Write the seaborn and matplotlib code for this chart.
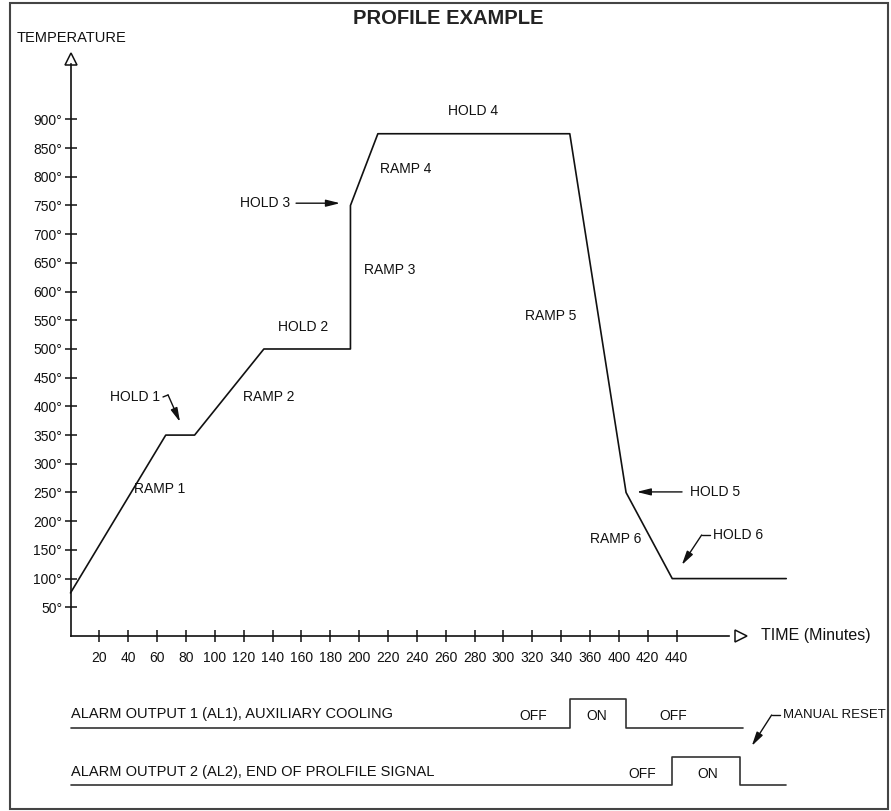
import numpy as np
import matplotlib
matplotlib.use("Agg")
import matplotlib.pyplot as plt
from matplotlib.patches import Rectangle
import seaborn as sns

sns.set_style('white')
plt.rcParams['font.family'] = ['Liberation Sans', 'DejaVu Sans']

# temperature profile (x in drawn minutes, y in degrees)
profile_t = [0, 66, 86, 134, 194, 194, 213, 346, 385, 417, 496]
profile_temp = [75, 350, 350, 500, 500, 750, 875, 875, 250, 100, 100]

# axis ticks
y_ticks = list(range(50, 901, 50))
y_labels = [f"{v}°" for v in y_ticks]
x_ticks = [20 * k for k in range(1, 22)]
x_labels = ["20", "40", "60", "80", "100", "120", "140", "160", "180", "200",
            "220", "240", "260", "280", "300", "320", "340", "360", "400",
            "420", "440"]

# segment labels: text, x, y
seg_labels = ["RAMP 1", "RAMP 2", "HOLD 2", "RAMP 3", "RAMP 4", "HOLD 4",
              "RAMP 5", "RAMP 6"]
seg_x = [44, 119.5, 143.8, 203.4, 214.5, 261.6, 315, 360]
seg_y = [256, 416, 538, 638, 814, 915, 558, 169]

# alarm outputs (step traces)
al1_t = [0, 346, 385, 466]
al1_state = [0, 1, 0, 0]
al2_t = [0, 417, 464, 496]
al2_state = [0, 1, 0, 0]
al1_base, al2_base, step_h = -160, -260, 50

fig = plt.figure(figsize=(8.91, 8.11), dpi=100)
ax = fig.add_axes([0, 0, 1, 1])
ax.set_xlim(-48.86, 568.6)
ax.set_ylim(-304.9, 1108)

ink = '#111111'
lw = 1.2
fs = 10

sns.lineplot(x=profile_t, y=profile_temp, estimator=None, sort=False,
             color=ink, lw=lw, ax=ax)

# axes through the origin
for side in ['top', 'right']:
    ax.spines[side].set_visible(False)
ax.spines['left'].set_position(('data', 0))
ax.spines['bottom'].set_position(('data', 0))
ax.spines['left'].set_bounds(0, 997)
ax.spines['bottom'].set_bounds(0, 456)
for side in ['left', 'bottom']:
    ax.spines[side].set_linewidth(lw)
    ax.spines[side].set_color(ink)
ax.plot(0, 1006, marker='^', ms=8.5, mfc='white', mec=ink, mew=1.1, clip_on=False)
ax.plot(464.5, 0, marker='>', ms=8.5, mfc='white', mec=ink, mew=1.1, clip_on=False)

ax.set_yticks(y_ticks)
ax.set_yticklabels(y_labels)
ax.set_xticks(x_ticks)
ax.set_xticklabels(x_labels)
ax.tick_params(axis='both', bottom=True, left=True, direction='inout',
               length=8, width=1.1, color=ink, labelsize=10, labelcolor=ink)
ax.tick_params(axis='y', pad=2)
ax.tick_params(axis='x', pad=7)

ax.text(-37.1, 1042, "TEMPERATURE", fontsize=10.5, ha='left', va='center', color=ink)
ax.text(478.3, 0, "TIME (Minutes)", fontsize=11.5, ha='left', va='center', color=ink)

for lab, x, y in zip(seg_labels, seg_x, seg_y):
    ax.text(x, y, lab, fontsize=fs, ha='left', va='center', color=ink)

arrow = dict(arrowstyle='-|>,head_length=0.6,head_width=0.15', color=ink,
             lw=1.0, mutation_scale=14, shrinkA=0, shrinkB=0)

# HOLD 1 with bent leader
ax.text(27.4, 416, "HOLD 1", fontsize=fs, ha='left', va='center', color=ink)
ax.plot([64.1, 67.6], [416.4, 419.9], color=ink, lw=1.0)
ax.annotate('', xy=(75.9, 372.8), xytext=(67.6, 419.9), arrowprops=arrow)

# HOLD 3
ax.text(117.5, 754, "HOLD 3", fontsize=fs, ha='left', va='center', color=ink)
ax.annotate('', xy=(186.8, 754), xytext=(156.3, 754), arrowprops=arrow)

# HOLD 5
ax.text(429.3, 251, "HOLD 5", fontsize=fs, ha='left', va='center', color=ink)
ax.annotate('', xy=(392.4, 251), xytext=(423.8, 251), arrowprops=arrow)

# HOLD 6
ax.text(445, 176, "HOLD 6", fontsize=fs, ha='left', va='center', color=ink)
ax.plot([443.2, 437.4], [176, 176], color=ink, lw=1.0)
ax.annotate('', xy=(423.6, 123.7), xytext=(437.4, 176), arrowprops=arrow)

# alarm traces
sns.lineplot(x=al1_t, y=[al1_base + step_h * s for s in al1_state],
             estimator=None, sort=False, drawstyle='steps-post',
             color='#333333', lw=lw, ax=ax)
sns.lineplot(x=al2_t, y=[al2_base + step_h * s for s in al2_state],
             estimator=None, sort=False, drawstyle='steps-post',
             color='#333333', lw=lw, ax=ax)

ax.text(0.4, -136, "ALARM OUTPUT 1 (AL1), AUXILIARY COOLING", fontsize=10.5,
        ha='left', va='center', color=ink)
ax.text(0.4, -236.5, "ALARM OUTPUT 2 (AL2), END OF PROLFILE SIGNAL", fontsize=10.5,
        ha='left', va='center', color=ink)
for lab, x, y in [("OFF", 320.5, -139), ("ON", 364.9, -139), ("OFF", 417.5, -139),
                  ("OFF", 396, -240.4), ("ON", 441.6, -240.4)]:
    ax.text(x, y, lab, fontsize=fs, ha='center', va='center', color=ink)

ax.text(493.6, -137.6, "MANUAL RESET", fontsize=9.5, ha='left', va='center', color=ink)
ax.plot([491.7, 485.9], [-137.6, -137.6], color=ink, lw=1.0)
ax.annotate('', xy=(472.1, -191.6), xytext=(485.9, -137.6), arrowprops=arrow)

# title and frame
fig.text(448 / 891, 1 - 19 / 811, "PROFILE EXAMPLE", fontsize=14.5,
         weight='bold', ha='center', va='center', color='#222222')
fig.patches.append(Rectangle((10 / 891, 1 - 809 / 811), 878 / 891, 806 / 811,
                             transform=fig.transFigure, fill=False,
                             lw=1.5, ec='#444444'))

fig.savefig('out.png', dpi=100)
